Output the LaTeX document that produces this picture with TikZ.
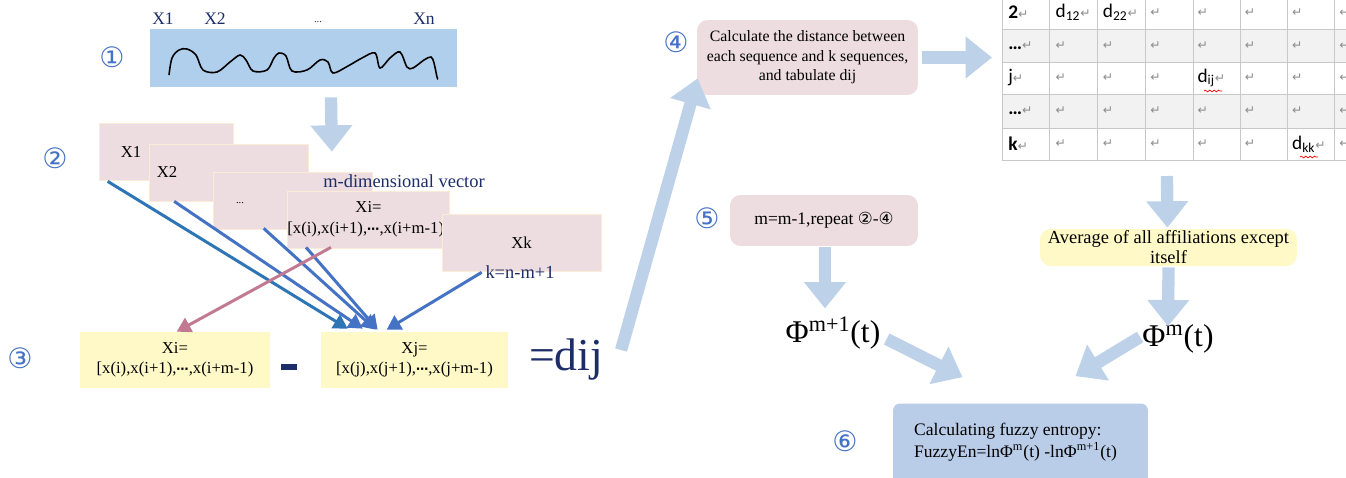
\documentclass[tikz,border=0pt]{standalone}
\usepackage{fontspec}
\setmainfont{Liberation Serif}
\newfontfamily\dejavu{DejaVu Sans}
\newfontfamily\carlito{Carlito}
\usetikzlibrary{arrows.meta,calc,decorations.pathmorphing}
\definecolor{mynavy}{RGB}{28,45,105}
\definecolor{numblue}{RGB}{68,114,196}
\definecolor{lineblue}{RGB}{68,114,196}
\definecolor{darkline}{RGB}{46,117,182}
\definecolor{pinkline}{RGB}{194,122,146}
\definecolor{seqfill}{RGB}{176,207,236}
\definecolor{arrowfill}{RGB}{189,209,233}
\definecolor{pinkfill}{RGB}{237,221,224}
\definecolor{pinkedge}{RGB}{250,236,215}
\definecolor{yellowfill}{RGB}{255,249,200}
\definecolor{entfill}{RGB}{185,204,232}
\definecolor{tabgrid}{RGB}{200,200,200}
\definecolor{tabshade}{RGB}{242,242,242}
\definecolor{retgray}{RGB}{140,140,140}
\newcommand{\retmark}{{\dejavu\fontsize{7}{8}\selectfont\color{retgray}↵}}
\newcommand{\cnum}[1]{{\dejavu\fontsize{16}{18}\selectfont\color{numblue}#1}}
\newcommand{\mydots}{{\dejavu\bfseries\fontsize{7}{8}\selectfont ⋯}}

\begin{document}
\begin{tikzpicture}[x=0.02cm,y=-0.02cm,
  every node/.style={inner sep=1pt},
  bigarrow/.style={line width=7pt, draw=arrowfill, -{Triangle[length=15pt,width=23pt]}},
  link/.style={line width=1.7pt, draw=lineblue, -{Triangle[length=8pt,width=9pt]}},
  pinkbox/.style={fill=pinkfill, draw=pinkedge, line width=0.4pt, minimum width=3.18cm, minimum height=1.14cm, inner sep=0pt, font=\fontsize{9.5}{12}\selectfont, align=center},
  yellowbox/.style={fill=yellowfill, minimum width=3.8cm, minimum height=1.12cm, inner sep=0pt, font=\fontsize{9.5}{11.5}\selectfont, align=center},
  roundbox/.style={rounded corners=6pt, inner sep=0pt, align=center},
  toplab/.style={text=mynavy, font=\fontsize{10}{12}\selectfont},
  cell/.style={anchor=west, inner sep=0pt, font=\carlito\fontsize{11}{12}\selectfont}]
\useasboundingbox (0,0) rectangle (1346,477);
\clip (0,0) rectangle (1346,477);

% step numbers
\node (n1) at (112,57) {\cnum{①}};
\node (n2) at (55,158) {\cnum{②}};
\node (n3) at (20,358) {\cnum{③}};
\node (n4) at (676,42) {\cnum{④}};
\node (n5) at (707,218) {\cnum{⑤}};
\node (n6) at (845,441) {\cnum{⑥}};

% (1) the time series
\node[fill=seqfill, minimum width=6.14cm, minimum height=1.16cm] (seq) at (303.5,58) {};
\draw[line width=0.9pt] plot[smooth, tension=0.55] coordinates {(169,75) (172,58) (179,50) (187,49) (196,55) (203,70) (217,72) (230,62) (240,55) (246,60) (253,71) (267,70) (274,58) (279,53) (286,56) (292,71) (307,70) (320,60) (328,62) (333,73) (348,66) (362,58) (375,53) (380,68) (390,58) (400,52) (407,67) (413,68) (424,60) (431,57) (434,63) (437,77) (438,79)};
\node[toplab] (xa) at (163,19) {X1};
\node[toplab] (xb) at (215,19) {X2};
\node[toplab, font=\fontsize{6}{7}\selectfont] (xdd) at (318,22) {...};
\node[toplab] (xn) at (424,19) {Xn};

% (2) the m-dimensional vectors
\node[pinkbox, minimum width=2.68cm] (xone) at (166,151.5) {};
\node[font=\fontsize{9.5}{12}\selectfont] (xonelab) at (131,152) {X1};
\node[pinkbox] (xtwo) at (229,172.5) {};
\node[font=\fontsize{9.5}{12}\selectfont] (xtwolab) at (167,172) {X2};
\node[pinkbox] (xdots) at (292.5,200.5) {};
\node[font=\fontsize{6}{7}\selectfont] (xdotslab) at (240,203) {...};
\node[pinkbox] (xivec) at (368.5,219.5) {Xi=\\{[}x(i),x(i+1),\mydots,x(i+m-1)]};
\node[pinkbox] (xk) at (521.5,242.5) {Xk};
\node[text=mynavy, font=\fontsize{10.5}{12}\selectfont] (mdim) at (404,181) {m-dimensional vector};
\node[text=mynavy, font=\fontsize{10.5}{12}\selectfont] (klab) at (520,272) {k=n-m+1};

% (3) difference of two vectors
\node[yellowbox] (yi) at (175,360) {Xi=\\{[}x(i),x(i+1),\mydots,x(i+m-1)};
\node[yellowbox, minimum width=3.74cm] (yj) at (414.5,360) {Xj=\\{[}x(j),x(j+1),\mydots,x(j+m-1)};
\node[text=mynavy] (minus) at (289,367) {\rule{9pt}{3.4pt}};
\node[text=mynavy, font=\fontsize{26}{28}\selectfont] (dij) at (566,360) {=dij};

\draw[link, draw=darkline] ($(xone.south west)+(9,1)$) -- ($(yj.north west)+(27,-3)$);
\draw[link] ($(xtwo.south west)+(25,0)$) -- ($(yj.north west)+(42,-3)$);
\draw[link] ($(xdots.south west)+(51,-1)$) -- ($(yj.north west)+(55,-2)$);
\draw[link] ($(xivec.south west)+(19,-1)$) -- ($(yj.north west)+(57,-2)$);
\draw[link] ($(xk.south west)+(40,1)$) -- ($(yj.north west)+(66,-2)$);
\draw[link, draw=pinkline] ($(xivec.south west)+(44,-1)$) -- ($(yi.north west)+(97,0)$);

% (4) distance table
\node[roundbox, fill=pinkfill, minimum width=4.42cm, minimum height=1.5cm, font=\fontsize{9}{11}\selectfont] (calc) at (807.5,57.5) {Calculate the distance between\\each sequence and k sequences,\\and tabulate dij};
\fill[tabshade] (1002,29) rectangle (1381,62);
\fill[tabshade] (1002,94) rectangle (1381,128);
\foreach \yy in {29,62,94,128,160}
  \draw[tabgrid] (1002,\yy) -- (1381,\yy);
\foreach \xx in {1002,1049,1097,1145,1193,1240,1287,1334}
  \draw[tabgrid] (\xx,-4) -- (\xx,160);
\foreach \yc/\cells in {12.5/{{\textbf{2}},{d\textsubscript{12}},{d\textsubscript{22}},{},{},{},{},{}},
    45.5/{{\textbf{\ldots}},{},{},{},{},{},{},{}},
    78/{{j},{},{},{},{d\textsubscript{ij}},{},{},{}},
    111/{{\textbf{\ldots}},{},{},{},{},{},{},{}},
    144/{{\textbf{k}},{},{},{},{},{},{d\textsubscript{kk}},{}}}
  \foreach \t [count=\c from 0] in \cells
    \node[cell] at ({1008+47.3*\c},\yc) {\t\retmark};
\draw[red, line width=0.4pt, decorate, decoration={snake, amplitude=0.5pt, segment length=2.5pt}] (1204,91) -- (1222,91);
\draw[red, line width=0.4pt, decorate, decoration={snake, amplitude=0.5pt, segment length=2.5pt}] (1300,157) -- (1318,157);
\coordinate (tabin) at (992,57.5);
\coordinate (tabout) at (1167,176);

% (5) repeat with m-1
\node[roundbox, fill=pinkfill, minimum width=3.76cm, minimum height=1.02cm, font=\fontsize{10}{12}\selectfont] (rep) at (824,220.5) {m=m-1,repeat {\dejavu\fontsize{9.5}{11}\selectfont ②}-{\dejavu\fontsize{9.5}{11}\selectfont ④}};
\node[roundbox, fill=yellowfill, minimum width=5.14cm, minimum height=0.74cm, font=\fontsize{10.5}{11.4}\selectfont] (avg) at (1168.5,247.5) {Average of all affiliations except\\itself};
\node[font=\fontsize{18}{20}\selectfont, inner sep=0pt] (phimone) at (833,333) {Φ\textsuperscript{m+1}(t)};
\node[font=\fontsize{18}{20}\selectfont, inner sep=0pt] (phim) at (1178,339) {Φ\textsuperscript{m}(t)};

% (6) fuzzy entropy
\node[rounded corners=4pt, fill=entfill, minimum width=5.1cm, minimum height=1.7cm] (fuzzy) at (1020.5,446) {};
\node[anchor=west, align=left, font=\fontsize{10}{12.5}\selectfont] (fuzzytxt) at (912,442) {Calculating fuzzy entropy:\\FuzzyEn=lnΦ\textsuperscript{m}(t) -lnΦ\textsuperscript{m+1}(t)};

% block arrows
\draw[bigarrow] ($(seq.south)+(27.5,10)$) -- ($(xtwo.north east)+(23,8)$);
\draw[bigarrow] ($(dij.east)+(16,-10)$) -- ($(calc.south west)+(1,-17)$);
\draw[bigarrow] ($(calc.east)+(4,0)$) -- (tabin);
\draw[bigarrow] (tabout) -- ($(avg.north)+(-1,-1)$);
\draw[bigarrow] ($(avg.south)+(0,1)$) -- ($(phim.north)+(-10,2)$);
\draw[bigarrow] ($(rep.south)+(1,1)$) -- ($(phimone.north)+(-8,-8)$);
\draw[bigarrow] ($(phimone.east)+(6,6)$) -- ($(fuzzy.north)+(-58,-26)$);
\draw[bigarrow] ($(phim.west)+(-2,-2)$) -- ($(fuzzy.north)+(55,-27)$);
\end{tikzpicture}
\end{document}
